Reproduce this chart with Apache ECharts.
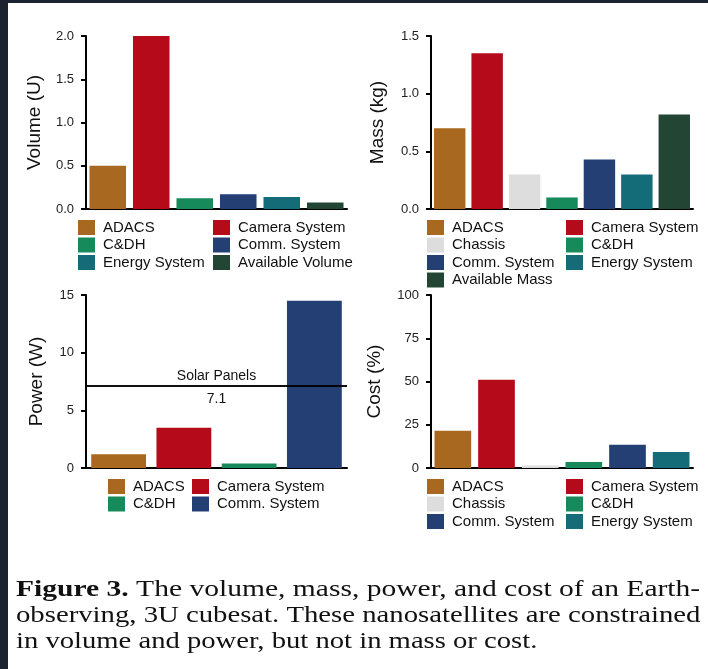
<!DOCTYPE html>
<html>
<head>
<meta charset="utf-8">
<script src="https://cdn.jsdelivr.net/npm/echarts@6/dist/echarts.min.js"></script>
<style>
html,body{margin:0;padding:0;background:#fff;}
#chart{width:708px;height:669px;}
</style>
</head>
<body>
<div id="chart"></div>
<script>
// ---- data ----
const volumeCats = ['ADACS', 'Camera System', 'C&DH', 'Comm. System', 'Energy System', 'Available Volume'];
const volumeVals = [0.5, 2.0, 0.125, 0.17, 0.14, 0.075];
const massCats = ['ADACS', 'Camera System', 'Chassis', 'C&DH', 'Comm. System', 'Energy System', 'Available Mass'];
const massVals = [0.7, 1.35, 0.3, 0.1, 0.43, 0.3, 0.82];
const powerCats = ['ADACS', 'Camera System', 'C&DH', 'Comm. System'];
const powerVals = [1.2, 3.5, 0.4, 14.5];
const costCats = ['ADACS', 'Camera System', 'Chassis', 'C&DH', 'Comm. System', 'Energy System'];
const costVals = [21.5, 51, 1.5, 3.5, 13.5, 9.3];
const solarPanelPower = 7.1;

const volumeAxis = {name: 'Volume (U)', max: 2.0, interval: 0.5, decimals: 1};
const massAxis = {name: 'Mass (kg)', max: 1.5, interval: 0.5, decimals: 1};
const powerAxis = {name: 'Power (W)', max: 15, interval: 5, decimals: 0};
const costAxis = {name: 'Cost (%)', max: 100, interval: 25, decimals: 0};

const volumeLegendCols = [['ADACS', 'C&DH', 'Energy System'], ['Camera System', 'Comm. System', 'Available Volume']];
const massLegendCols = [['ADACS', 'Chassis', 'Comm. System', 'Available Mass'], ['Camera System', 'C&DH', 'Energy System']];
const powerLegendCols = [['ADACS', 'C&DH'], ['Camera System', 'Comm. System']];
const costLegendCols = [['ADACS', 'Chassis', 'Comm. System'], ['Camera System', 'C&DH', 'Energy System']];

const captionLines = [
  ['Figure 3.', ' The volume, mass, power, and cost of an Earth-'],
  ['', 'observing, 3U cubesat. These nanosatellites are constrained'],
  ['', 'in volume and power, but not in mass or cost.']
];

// ---- styling ----
const colorMap = {
  'ADACS': '#a9681f',
  'Camera System': '#b40a19',
  'Chassis': '#dddddd',
  'C&DH': '#178a5b',
  'Comm. System': '#243f74',
  'Energy System': '#146c79',
  'Available Volume': '#234634',
  'Available Mass': '#234634'
};
const SANS = '"Liberation Sans", Arial, Helvetica, sans-serif';
const SERIF = '"Liberation Serif", "Times New Roman", serif';
const captionScaleX = [1.231, 1.197, 1.193];

const panels = [
  {cats: volumeCats, vals: volumeVals, axis: volumeAxis, legend: volumeLegendCols,
   grid: {left: 86, top: 36, width: 261, height: 173}, nameGap: 42, legendPos: [{left: 78, top: 220}, {left: 213, top: 220}]},
  {cats: massCats, vals: massVals, axis: massAxis, legend: massLegendCols,
   grid: {left: 431, top: 36, width: 262, height: 173}, nameGap: 44, legendPos: [{left: 427, top: 220}, {left: 566, top: 220}]},
  {cats: powerCats, vals: powerVals, axis: powerAxis, legend: powerLegendCols,
   grid: {left: 86, top: 295, width: 261, height: 173}, nameGap: 40, legendPos: [{left: 108, top: 479}, {left: 192, top: 479}]},
  {cats: costCats, vals: costVals, axis: costAxis, legend: costLegendCols,
   grid: {left: 431, top: 295, width: 262, height: 173}, nameGap: 47, legendPos: [{left: 427, top: 479}, {left: 566, top: 479}]}
];

const grids = [], xAxes = [], yAxes = [], series = [], legends = [];
panels.forEach((p, pi) => {
  grids.push(Object.assign({containLabel: false}, p.grid));
  xAxes.push({
    type: 'category', gridIndex: pi, data: p.cats,
    axisLine: {show: true, lineStyle: {color: '#000', width: 2}},
    axisTick: {show: false}, axisLabel: {show: false}, splitLine: {show: false}
  });
  yAxes.push({
    type: 'value', gridIndex: pi, min: 0, max: p.axis.max, interval: p.axis.interval,
    name: p.axis.name, nameLocation: 'middle', nameGap: p.nameGap, nameRotate: 90,
    nameTextStyle: {fontSize: 19, color: '#111', fontFamily: SANS},
    axisLine: {show: true, lineStyle: {color: '#000', width: 2}},
    axisTick: {show: true, length: 5, lineStyle: {color: '#000', width: 2}},
    axisLabel: {fontSize: 13, color: '#222', fontFamily: SANS, margin: 12,
      formatter: v => v.toFixed(p.axis.decimals)},
    splitLine: {show: false}
  });
  p.cats.forEach((c, i) => {
    const s = {
      type: 'bar', name: c, xAxisIndex: pi, yAxisIndex: pi, stack: 'panel' + pi,
      barCategoryGap: '16%',
      data: p.cats.map((_, j) => j === i ? p.vals[i] : '-'),
      itemStyle: {color: colorMap[c]},
      emphasis: {disabled: true}, silent: true
    };
    if (pi === 2 && i === p.cats.length - 1) {
      s.markLine = {
        symbol: 'none', silent: true, z: 10,
        lineStyle: {color: '#000', width: 1.5, type: 'solid'},
        label: {fontSize: 14, color: '#111', fontFamily: SANS},
        data: [
          {yAxis: solarPanelPower, label: {position: 'insideMiddleTop', distance: 3, formatter: 'Solar Panels'}},
          {yAxis: solarPanelPower, label: {position: 'insideMiddleBottom', distance: 6, formatter: String(solarPanelPower)}}
        ]
      };
    }
    series.push(s);
  });
  p.legend.forEach((col, ci) => {
    legends.push(Object.assign({
      orient: 'vertical', data: col, icon: 'rect', itemWidth: 17, itemHeight: 15, itemGap: 2.5,
      padding: 0, selectedMode: false,
      textStyle: {fontSize: 15, color: '#111', fontFamily: SANS, padding: [0, 0, 0, 3]}
    }, p.legendPos[ci]));
  });
});

const graphics = [
  {type: 'rect', shape: {x: 0, y: 0, width: 8, height: 669}, style: {fill: '#1b2230'}, z: 100},
  {type: 'rect', shape: {x: 0, y: 0, width: 708, height: 3}, style: {fill: '#1b2230'}, z: 100}
];
captionLines.forEach((ln, k) => {
  graphics.push({
    type: 'text', x: 16, y: 578 + k * 26, scaleX: captionScaleX[k], scaleY: 1, z: 100,
    style: {
      text: (ln[0] ? '{b|' + ln[0] + '}' : '') + '{n|' + ln[1] + '}',
      rich: {
        b: {fontFamily: SERIF, fontSize: 24, fontWeight: 'bold', fill: '#111'},
        n: {fontFamily: SERIF, fontSize: 24, fill: '#111'}
      },
      fill: '#111', fontFamily: SERIF, fontSize: 24
    }
  });
});

const chart = echarts.init(document.getElementById('chart'), null, {renderer: 'canvas'});
chart.setOption({
  backgroundColor: '#ffffff',
  animation: false,
  grid: grids, xAxis: xAxes, yAxis: yAxes, series: series, legend: legends,
  graphic: graphics
});
</script>
</body>
</html>
